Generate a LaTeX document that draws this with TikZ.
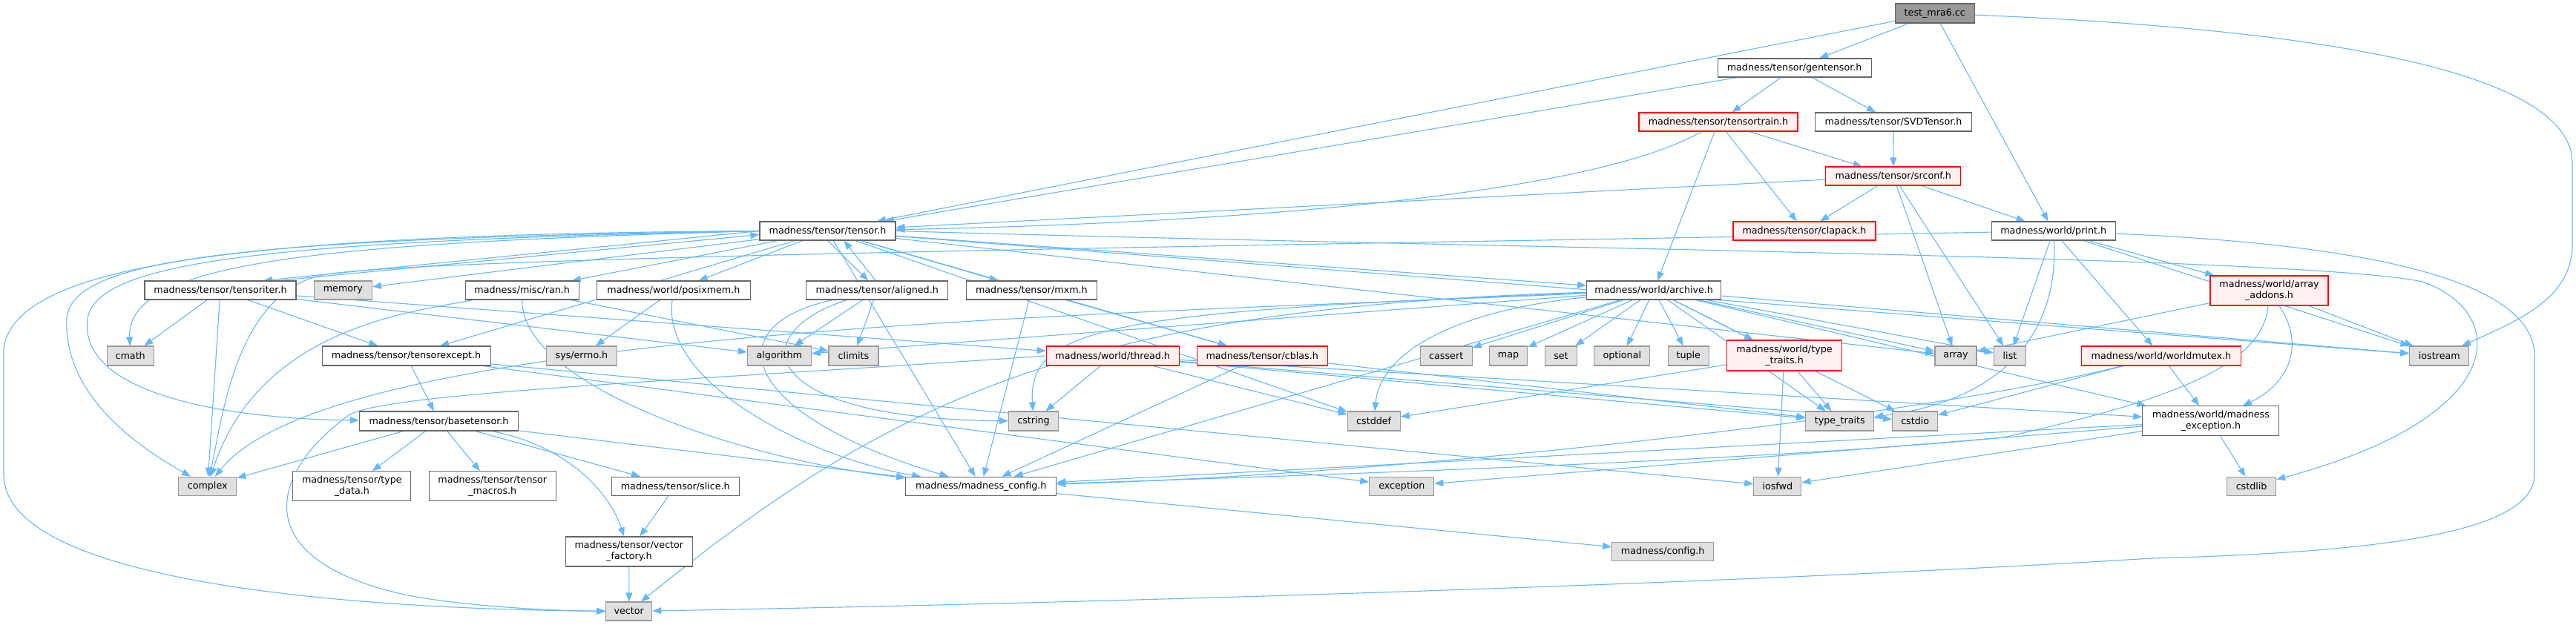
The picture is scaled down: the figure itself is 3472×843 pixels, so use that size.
\documentclass[tikz,border=0pt]{standalone}
\usepackage{fontspec}
\setmainfont{DejaVu Sans}
\usetikzlibrary{arrows.meta}
\pgfdeclarelayer{bg}
\pgfsetlayers{bg,main}
\definecolor{eb}{HTML}{63B8FF}
\definecolor{nb}{HTML}{666666}
\definecolor{sb}{HTML}{999999}
\definecolor{sf}{HTML}{E0E0E0}
\definecolor{rf}{HTML}{FFF0F0}
\definecolor{rootf}{HTML}{999999}
\begin{document}
\begin{tikzpicture}[x=1pt,y=-1pt,
  font=\fontsize{12.7}{15}\selectfont,
  base/.style={draw, inner sep=0pt, align=center, line width=1.1pt},
  nrm/.style={base, draw=nb, fill=white},
  hot/.style={base, draw=red, fill=rf},
  sys/.style={base, draw=sb, fill=sf},
  root/.style={base, draw=nb, fill=rootf},
  sz/.style 2 args={minimum width=#1pt, minimum height=#2pt},
  e/.style={draw=eb, line width=1.1pt, -{Triangle[length=12pt,width=9pt]}}
]
\useasboundingbox (0,0) rectangle (3472,843);

% row 0-4
\node[root, sz={107}{26}] (test) at (2607.8,18) {test\_mra6.cc};
\node[nrm, sz={207}{25}] (gen) at (2418.6,91.5) {madness/tensor/gentensor.h};
\node[hot, sz={214}{25}] (ttrain) at (2316,164.5) {madness/tensor/tensortrain.h};
\node[nrm, sz={211}{25}] (svd) at (2552,164.5) {madness/tensor/SVDTensor.h};
\node[hot, sz={182}{25}] (srconf) at (2551.8,237.5) {madness/tensor/srconf.h};
\node[nrm, sz={183}{25}] (tensor) at (1115.5,311.5) {madness/tensor/tensor.h};
\node[hot, sz={192}{25}] (clapack) at (2432,311.5) {madness/tensor/clapack.h};
\node[nrm, sz={167}{25}] (print) at (2767.7,311.5) {madness/world/print.h};
% row 5
\node[nrm, sz={204}{25}] (titer) at (297,391.5) {madness/tensor/tensoriter.h};
\node[sys, sz={78}{25}] (memory) at (462.4,391.5) {memory};
\node[nrm, sz={153}{25}] (ran) at (703.7,391.5) {madness/misc/ran.h};
\node[nrm, sz={207}{25}] (posix) at (907.9,391.5) {madness/world/posixmem.h};
\node[nrm, sz={191}{25}] (aligned) at (1182.2,391.5) {madness/tensor/aligned.h};
\node[nrm, sz={176}{25}] (mxm) at (1390.4,391.5) {madness/tensor/mxm.h};
\node[nrm, sz={181}{25}] (archive) at (2229.2,391.5) {madness/world/archive.h};
\node[hot, sz={159}{40}] (arradd) at (3058.5,392) {madness/world/array\\\_addons.h};
% row 6
\node[sys, sz={63}{26}] (cmath) at (175.7,480) {cmath};
\node[nrm, sz={227}{26}] (texcept) at (547.6,480) {madness/tensor/tensorexcept.h};
\node[sys, sz={95}{26}] (errno) at (783.9,480) {sys/errno.h};
\node[sys, sz={86}{26}] (algorithm) at (1050.3,480) {algorithm};
\node[sys, sz={67}{26}] (climits) at (1150.5,480) {climits};
\node[hot, sz={179}{26}] (thread) at (1499.7,480) {madness/world/thread.h};
\node[hot, sz={176}{26}] (cblas) at (1701.2,480) {madness/tensor/cblas.h};
\node[sys, sz={70}{26}] (cassert) at (1949.2,480) {cassert};
\node[sys, sz={51}{26}] (map) at (2033,480) {map};
\node[sys, sz={43}{26}] (set) at (2104,480) {set};
\node[sys, sz={75}{26}] (optional) at (2186.3,480) {optional};
\node[sys, sz={55}{26}] (tuple) at (2275.8,480) {tuple};
\node[hot, sz={155}{41}] (wtt) at (2405,479.5) {madness/world/type\\\_traits.h};
\node[sys, sz={56}{26}] (array) at (2636,480) {array};
\node[sys, sz={43}{26}] (list) at (2709,480) {list};
\node[hot, sz={215}{26}] (wmutex) at (2912.9,480) {madness/world/worldmutex.h};
\node[sys, sz={80}{26}] (iostream) at (3287.8,480) {iostream};
% row 7
\node[nrm, sz={214}{26}] (basetensor) at (591.5,568) {madness/tensor/basetensor.h};
\node[sys, sz={67}{26}] (cstring) at (1393,568) {cstring};
\node[sys, sz={71}{26}] (cstddef) at (1851.7,568) {cstddef};
\node[sys, sz={92}{26}] (tt) at (2479.8,568) {type\_traits};
\node[sys, sz={61}{26}] (cstdio) at (2581.2,568) {cstdio};
\node[nrm, sz={184}{40}] (mexc) at (2979.8,567.7) {madness/world/madness\\\_exception.h};
% row 8
\node[sys, sz={78}{25}] (complex) at (279.7,655.8) {complex};
\node[nrm, sz={159}{40}] (typedata) at (474.4,655.8) {madness/tensor/type\\\_data.h};
\node[nrm, sz={171}{40}] (tmacros) at (663.8,655.8) {madness/tensor/tensor\\\_macros.h};
\node[nrm, sz={172}{25}] (slice) at (910.3,655.8) {madness/tensor/slice.h};
\node[nrm, sz={203}{25}] (mconfig) at (1322.3,655.8) {madness/madness\_config.h};
\node[sys, sz={87}{25}] (exception) at (1889.3,655.8) {exception};
\node[sys, sz={64}{25}] (iosfwd) at (2395.8,655.8) {iosfwd};
\node[sys, sz={66}{25}] (cstdlib) at (3034.6,655.8) {cstdlib};
% row 9-10
\node[nrm, sz={171}{40}] (vfactory) at (847.9,744) {madness/tensor/vector\\\_factory.h};
\node[sys, sz={137}{25}] (config) at (2241.2,744.2) {madness/config.h};
\node[sys, sz={62}{25}] (vector) at (847.8,824.5) {vector};

\begin{pgfonlayer}{bg}
\fill[white] (0,0) rectangle (3472,843);
% test_mra6.cc
\draw[e] (test) -- (gen);
\draw[e] (test) -- (tensor);
\draw[e] (test) -- (print);
\draw[e] (test) .. controls (3150,40) and (3467,100) .. (3467,220) -- (3467,330) .. controls (3467,400) and (3400,430) .. (iostream);
% gentensor
\draw[e] (gen) -- (tensor);
\draw[e] (gen) -- (ttrain);
\draw[e] (gen) -- (svd);
% tensortrain
\draw[e] (ttrain) -- (srconf);
\draw[e] (ttrain) -- (clapack);
\draw[e] (ttrain) .. controls (2150,260) and (1700,300) .. (tensor);
\draw[e] (ttrain) -- (archive);
\draw[e] (svd) -- (srconf);
% srconf
\draw[e] (srconf) -- (clapack);
\draw[e] (srconf) -- (print);
\draw[e] (srconf) -- (tensor);
\draw[e] (srconf) -- (array);
\draw[e] (srconf) -- (list);
% print
\draw[e] (print) -- (arradd);
\draw[e] (print) -- (wmutex);
\draw[e] (print) -- (list);
\draw[e] (print) .. controls (2775,450) and (2700,540) .. (tt);
\draw[e] (print) .. controls (1800,330) and (600,345) .. (440,370) .. controls (320,390) and (300,560) .. (complex);
\draw[e] (print) -- (iostream);
\draw[e] (print) .. controls (3200,330) and (3416,380) .. (3416,480) -- (3416,640) .. controls (3416,720) and (3200,745) .. (2900,753) .. controls (2300,790) and (1400,815) .. (vector);
% array_addons
\draw[e] (arradd) -- (array);
\draw[e] (arradd) -- (iostream);
\draw[e] (arradd) .. controls (3110,470) and (3080,520) .. (mexc);
\draw[e] (arradd) .. controls (3050,500) and (2900,545) .. (2700,590) .. controls (2400,620) and (1800,640) .. (mconfig);
% worldmutex
\draw[e] (wmutex) -- (mexc);
\draw[e] (wmutex) -- (cstdio);
\draw[e] (wmutex) .. controls (2600,560) and (1900,640) .. (mconfig);
% madness_exception
\draw[e] (mexc) -- (cstdlib);
\draw[e] (mexc) -- (iosfwd);
\draw[e] (mexc) -- (exception);
\draw[e] (mexc) -- (mconfig);
\draw[e] (mconfig) -- (config);
% world type_traits
\draw[e] (wtt) -- (tt);
\draw[e] (wtt) -- (iosfwd);
\draw[e] (wtt) -- (cstddef);
% tensor.h
\draw[e] (tensor.west) -- ([xshift=58pt]titer.north);
\draw[e] ([xshift=78pt]titer.north) -- ([yshift=-5pt]tensor.west);
\draw[e] (tensor) -- (memory);
\draw[e] (tensor) -- (ran);
\draw[e] (tensor) -- (posix);
\draw[e] (tensor.south) -- ([xshift=-12pt]aligned.north);
\draw[e] ([xshift=-2pt]aligned.north) -- ([xshift=22pt]tensor.south);
\draw[e] (tensor) -- (mxm);
\draw[e] (tensor) -- (archive);
\draw[e] (tensor.west) .. controls (350,322) and (95,345) .. (90,430) .. controls (85,540) and (200,610) .. (complex);
\draw[e] (tensor.west) .. controls (450,328) and (170,350) .. (cmath);
\draw[e] (tensor.west) .. controls (300,316) and (20,360) .. (5,470) -- (5,640) .. controls (5,790) and (500,822) .. (vector);
\draw[e] (tensor.west) .. controls (380,325) and (130,350) .. (118,430) .. controls (105,530) and (300,565) .. (basetensor);
\draw[e] (tensor) -- (texcept);
\draw[e] (tensor) -- (mconfig);
\draw[e] (tensor) -- (cstddef);
\draw[e] (tensor) -- (cblas);
\draw[e] (tensor) -- (array);
\draw[e] (tensor) -- (iostream);
\draw[e] (tensor.east) .. controls (2000,335) and (3100,345) .. (3265,380) .. controls (3380,420) and (3390,560) .. (cstdlib);
% tensoriter
\draw[e] (titer) -- (cmath);
\draw[e] (titer) -- (complex);
\draw[e] (titer) -- (texcept);
\draw[e] (titer) -- (algorithm);
\draw[e] (titer) -- (thread);
% tensorexcept
\draw[e] (texcept) -- (basetensor);
\draw[e] (texcept) -- (exception);
\draw[e] (texcept) -- (iosfwd);
% basetensor
\draw[e] (basetensor) -- (complex);
\draw[e] (basetensor) -- (typedata);
\draw[e] (basetensor) -- (tmacros);
\draw[e] (basetensor) .. controls (760,600) and (820,660) .. (vfactory);
\draw[e] (basetensor) -- (slice);
\draw[e] (basetensor) -- (mconfig);
\draw[e] (slice) -- (vfactory);
\draw[e] (vfactory) -- (vector);
% ran, posixmem, aligned, mxm, cblas
\draw[e] (ran) .. controls (560,420) and (350,440) .. (complex);
\draw[e] (ran) .. controls (703,520) and (1000,620) .. (mconfig);
\draw[e] (ran) -- (climits);
\draw[e] (posix) -- (errno);
\draw[e] (posix) .. controls (890,520) and (1100,620) .. (mconfig);
\draw[e] (aligned) .. controls (960,440) and (1000,560) .. (mconfig);
\draw[e] (aligned) -- (algorithm);
\draw[e] (aligned) -- (climits);
\draw[e] (aligned) .. controls (1000,450) and (1020,565) .. (cstring);
\draw[e] (mxm) -- (mconfig);
\draw[e] (mxm) -- (cblas);
\draw[e] (cblas) -- (mconfig);
\draw[e] (cblas) -- (tt);
% thread
\draw[e] (thread) -- (cstring);
\draw[e] (thread.west) .. controls (900,515) and (520,530) .. (470,560) .. controls (360,640) and (330,760) .. (560,805) .. controls (650,820) and (760,824) .. (vector);
\draw[e] (thread) -- (cstddef);
\draw[e] (thread) -- (tt);
\draw[e] (thread) -- (cstdio);
\draw[e] (thread) -- (mexc);
% archive
\draw[e] (archive) -- (algorithm);
\draw[e] (archive) -- (cassert);
\draw[e] (archive) -- (map);
\draw[e] (archive) -- (set);
\draw[e] (archive) -- (optional);
\draw[e] (archive) -- (tuple);
\draw[e] (archive) -- (wtt);
\draw[e] (archive) -- (array);
\draw[e] (archive) -- (list);
\draw[e] (archive) -- (iostream);
\draw[e] (archive) .. controls (1950,420) and (1860,480) .. (cstddef);
\draw[e] (archive) .. controls (1500,420) and (1385,440) .. (cstring);
\draw[e] (archive) -- (cstdio);
\draw[e] (archive) -- (tt);
\draw[e] (archive) .. controls (1450,415) and (1200,540) .. (vector);
\draw[e] (archive) -- (mexc);
\draw[e] (archive) -- (mconfig);
\draw[e] (archive) .. controls (1500,425) and (450,440) .. (complex);
\end{pgfonlayer}
\end{tikzpicture}
\end{document}
